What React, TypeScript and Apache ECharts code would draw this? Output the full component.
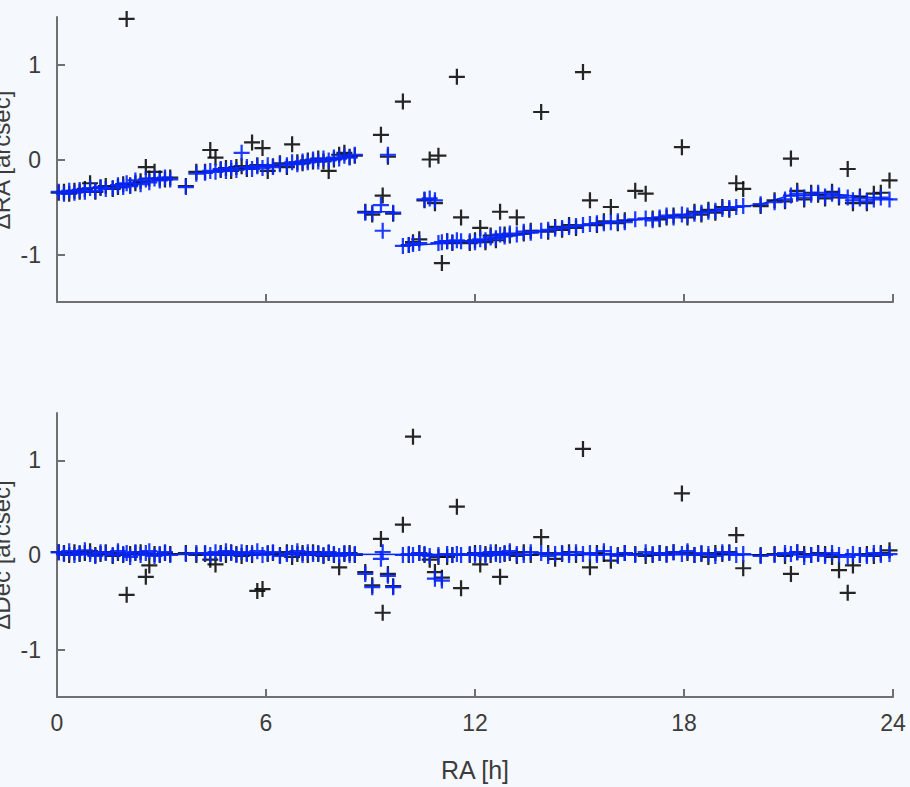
import React, { useEffect, useRef } from "react";
import * as echarts from "echarts";

// Observation right ascensions [h]
const ra = [
  0.05, 0.2, 0.35, 0.5, 0.65, 0.8, 0.95, 1.1, 1.25, 1.4, 1.6, 1.75, 1.9, 2.0, 2.1, 2.25, 2.4, 2.55, 2.65, 2.8, 2.95, 3.1, 3.25,
  3.7, 4.0,
  4.25, 4.4, 4.55, 4.7, 4.85, 5.0, 5.15, 5.3, 5.45, 5.6, 5.75, 5.9, 6.05, 6.2, 6.4, 6.6, 6.75, 6.9, 7.05, 7.2, 7.35, 7.5, 7.65, 7.8, 7.95, 8.1, 8.25, 8.4, 8.55,
  8.85, 9.05, 9.3, 9.35, 9.5, 9.65,
  9.93, 10.1, 10.22, 10.4, 10.55, 10.7, 10.85, 10.95, 11.05, 11.2, 11.35, 11.48, 11.6,
  11.85, 12.0, 12.15, 12.3, 12.45, 12.6, 12.72, 12.85, 13.0, 13.2, 13.4, 13.6, 13.9, 14.1, 14.3, 14.5, 14.7, 14.9, 15.1, 15.3,
  15.5, 15.7, 15.9, 16.1, 16.3, 16.6, 16.9, 17.1, 17.3, 17.5, 17.7, 17.94, 18.1, 18.3, 18.5, 18.7, 18.9, 19.1, 19.3, 19.5,
  19.7, 20.2, 20.6, 20.9, 21.07, 21.25, 21.45, 21.65, 21.85, 22.05, 22.25, 22.45, 22.7, 22.85, 23.05, 23.25, 23.45, 23.65, 23.9,
];

// Upper panel: observed (black) and model (blue) offsets [arcsec]
const topObserved = [
  -0.35, -0.34, -0.36, -0.33, -0.34, -0.31, -0.25, -0.34, -0.3, -0.28, -0.31, -0.29, -0.26, 1.48, -0.27, -0.25, -0.23, -0.08, -0.2, -0.13, -0.2, -0.21, -0.19,
  -0.28, -0.13,
  -0.13, 0.1, 0.02, -0.11, -0.09, -0.12, -0.08, -0.07, -0.1, 0.18, -0.06, 0.12, -0.12, -0.07, -0.04, -0.08, 0.16, -0.03, -0.04, -0.01, -0.02, 0.01, -0.02, -0.12, 0.0, 0.05, 0.07, 0.03, 0.04,
  -0.55, -0.58, 0.26, -0.38, 0.03, -0.57,
  0.61, -0.9, -0.87, -0.84, -0.43, 0.0, -0.46, 0.04, -1.09, -0.86, -0.88, 0.87, -0.61,
  -0.88, -0.85, -0.72, -0.87, -0.8, -0.85, -0.55, -0.79, -0.8, -0.61, -0.78, -0.75, 0.5, -0.76, -0.71, -0.74, -0.69, -0.72, 0.92, -0.43,
  -0.69, -0.65, -0.5, -0.67, -0.64, -0.33, -0.36, -0.62, -0.63, -0.61, -0.59, 0.13, -0.61, -0.55, -0.58, -0.53, -0.56, -0.5, -0.53, -0.25,
  -0.31, -0.49, -0.43, -0.44, 0.01, -0.33, -0.42, -0.35, -0.37, -0.41, -0.34, -0.4, -0.1, -0.46, -0.39, -0.46, -0.36, -0.35, -0.22,
];
const topModel = [
  -0.34, -0.36, -0.33, -0.35, -0.32, -0.34, -0.3, -0.33, -0.29, -0.31, -0.3, -0.27, -0.29, -0.25, -0.28, -0.22, -0.26, -0.21, -0.24, -0.2, -0.22, -0.19, -0.21,
  -0.29, -0.15,
  -0.14, -0.12, -0.13, -0.1, -0.12, -0.09, -0.11, 0.07, -0.08, -0.1, -0.07, -0.09, -0.06, -0.08, -0.05, -0.06, -0.03, -0.05, -0.02, -0.03, 0.0, -0.02, 0.01, -0.01, 0.02, 0.01, 0.04, 0.02, 0.05,
  -0.56, -0.56, -0.48, -0.75, 0.05, -0.56,
  -0.91, -0.9, -0.89, -0.88, -0.42, -0.41, -0.43, -0.88, -0.87, -0.86, -0.87, -0.85, -0.86,
  -0.86, -0.87, -0.84, -0.85, -0.82, -0.83, -0.79, -0.81, -0.78, -0.79, -0.76, -0.77, -0.75, -0.74, -0.73, -0.72, -0.71, -0.7, -0.69, -0.68,
  -0.67, -0.67, -0.66, -0.65, -0.66, -0.63, -0.62, -0.64, -0.61, -0.59, -0.61, -0.58, -0.59, -0.57, -0.56, -0.55, -0.54, -0.52, -0.51, -0.5,
  -0.49, -0.47, -0.45, -0.42, -0.38, -0.36, -0.4, -0.37, -0.35, -0.39, -0.36, -0.38, -0.4, -0.43, -0.41, -0.44, -0.42, -0.4, -0.42,
];

// Lower panel: observed (black) and model (blue) offsets [arcsec]
const bottomObserved = [
  0.03, 0.02, 0.0, 0.03, 0.01, 0.02, 0.04, 0.0, 0.01, 0.03, -0.01, 0.02, 0.0, -0.42, 0.01, 0.02, 0.03, -0.23, -0.11, 0.01, 0.0, 0.02, 0.01,
  0.02, 0.0,
  0.01, -0.05, -0.1, 0.02, 0.0, 0.03, 0.01, -0.01, 0.02, 0.0, -0.38, -0.36, 0.01, 0.02, 0.0, 0.03, -0.02, 0.01, 0.02, 0.0, 0.03, 0.01, -0.01, 0.02, 0.0, -0.13, 0.01, 0.02, 0.0,
  -0.18, -0.32, 0.17, -0.61, -0.2, -0.33,
  0.32, 0.0, 1.25, 0.02, 0.0, -0.05, -0.18, -0.02, -0.24, -0.02, 0.0, 0.51, -0.35,
  0.0, 0.02, -0.1, 0.01, 0.0, 0.03, -0.23, 0.01, 0.02, -0.01, 0.03, 0.0, 0.19, 0.02, -0.04, 0.01, 0.03, 0.0, 1.12, -0.13,
  0.02, 0.01, -0.06, 0.0, 0.02, 0.01, -0.01, 0.0, 0.02, 0.01, 0.03, 0.65, 0.02, 0.0, 0.01, -0.02, 0.02, 0.01, 0.03, 0.21,
  -0.14, 0.0, 0.01, -0.01, -0.2, 0.03, 0.01, 0.0, 0.02, 0.01, -0.02, -0.16, -0.4, -0.11, 0.0, 0.01, -0.01, 0.02, 0.05,
];
const bottomModel = [
  0.03, 0.01, 0.04, 0.0, 0.02, 0.05, 0.01, -0.01, 0.03, 0.02, 0.0, 0.04, 0.01, 0.02, -0.02, 0.03, 0.0, 0.02, 0.04, -0.01, 0.01, 0.03, 0.0,
  0.01, 0.02,
  0.02, 0.0, 0.03, 0.01, 0.04, 0.02, 0.0, 0.03, 0.01, 0.02, 0.04, 0.0, 0.02, 0.03, -0.01, 0.01, 0.02, 0.04, 0.0, 0.03, 0.01, 0.02, 0.0, 0.03, 0.01, -0.01, 0.02, 0.0, 0.01,
  -0.2, -0.34, -0.04, 0.03, -0.22, -0.34,
  0.0, 0.01, 0.0, 0.02, 0.01, -0.01, -0.25, 0.0, -0.27, 0.01, 0.0, 0.01, 0.0,
  0.01, 0.0, 0.02, -0.01, 0.03, 0.01, 0.0, 0.02, 0.04, 0.01, 0.0, 0.03, 0.02, -0.01, 0.01, 0.02, 0.0, 0.03, 0.01, 0.02,
  0.0, 0.04, 0.01, -0.01, 0.02, 0.0, 0.03, 0.01, 0.02, 0.0, 0.03, 0.01, 0.04, 0.0, 0.02, 0.01, -0.01, 0.03, 0.02, 0.0,
  0.01, -0.01, 0.0, 0.02, 0.01, 0.03, -0.02, 0.0, 0.01, -0.01, 0.02, 0.0, -0.02, 0.01, 0.0, -0.01, 0.02, 0.0, 0.01,
];

// Model curves (segments) drawn as thin lines
const topModelCurve = [
  [[0, -0.35], [3.3, -0.2]],
  [[4.2, -0.14], [8.6, 0.04]],
  [[8.8, -0.55], [9.7, -0.55]],
  [[10.5, -0.42], [10.9, -0.42]],
  [[9.9, -0.91], [12, -0.86], [15, -0.7], [18, -0.58], [20.2, -0.47], [21, -0.38], [22.5, -0.37], [24, -0.42]],
];
const bottomModelCurve = [[[0, 0.01], [24, 0.0]]];

const xTicks = [0, 6, 12, 18, 24];
const yTicks = [-1, 0, 1];
const xName = "RA [h]";
const topYName = "ΔRA [arcsec]";
const bottomYName = "ΔDec [arcsec]";

const PLUS = "path://M-1,-0.14H1V0.14H-1Z M-0.14,-1H0.14V1H-0.14Z";
const BLACK = "#0d0d0d";
const BLUE = "#0626ff";
const AXIS = "#707070";
const TXT = "#3c3c3c";
const FONT = "'Liberation Sans', Arial, sans-serif";
const BG = "#f5f8fc";

export default function App() {
  const ref = useRef<HTMLDivElement>(null);
  useEffect(() => {
    if (!ref.current) return;
    const chart = echarts.init(ref.current, undefined, { renderer: "svg" });

    const pts = (vals: number[]) => ra.map((x, i) => [x, vals[i]]);

    const mkX = (gi: number, showLabels: boolean) => ({
      type: "value",
      gridIndex: gi,
      min: 0,
      max: 24,
      interval: 6,
      axisLine: { show: true, onZero: false, lineStyle: { color: AXIS, width: 2 } },
      axisTick: { show: true, inside: true, length: 8, lineStyle: { color: AXIS, width: 2 } },
      axisLabel: {
        show: showLabels,
        customValues: xTicks,
        color: TXT,
        fontSize: 23,
        fontFamily: FONT,
        margin: 14,
      },
      splitLine: { show: false },
    });
    const mkY = (gi: number) => ({
      type: "value",
      gridIndex: gi,
      min: -1.5,
      max: 1.5,
      axisLine: { show: true, onZero: false, lineStyle: { color: AXIS, width: 2 } },
      axisTick: { show: true, inside: true, length: 8, customValues: yTicks, lineStyle: { color: AXIS, width: 2 } },
      axisLabel: {
        customValues: yTicks,
        color: TXT,
        fontSize: 23,
        fontFamily: FONT,
        margin: 16,
      },
      splitLine: { show: false },
    });

    const curveSeries = (segs: number[][][], gi: number) =>
      segs.map((seg) => ({
        type: "line",
        xAxisIndex: gi,
        yAxisIndex: gi,
        data: seg,
        symbol: "none",
        lineStyle: { color: BLUE, width: 1.5 },
        z: 1,
        silent: true,
      }));

    const scatter = (vals: number[], gi: number, color: string, z: number) => ({
      type: "scatter",
      xAxisIndex: gi,
      yAxisIndex: gi,
      data: pts(vals),
      symbol: PLUS,
      symbolSize: 16,
      itemStyle: { color, opacity: 0.9 },
      z,
      silent: true,
    });

    chart.setOption({
      animation: false,
      backgroundColor: BG,
      grid: [
        { left: 57, right: 17, top: 17, height: 285 },
        { left: 57, right: 17, top: 413, height: 284 },
      ],
      xAxis: [mkX(0, false), mkX(1, true)],
      yAxis: [mkY(0), mkY(1)],
      graphic: [
        {
          type: "text",
          x: 475,
          y: 770,
          style: { text: xName, font: `25px ${FONT}`, fill: TXT, textAlign: "center", textVerticalAlign: "middle" },
        },
        {
          type: "text",
          x: 13,
          y: 160,
          rotation: Math.PI / 2,
          style: { text: topYName, font: `24px ${FONT}`, fill: TXT, textAlign: "center", textVerticalAlign: "bottom" },
        },
        {
          type: "text",
          x: 13,
          y: 555,
          rotation: Math.PI / 2,
          style: { text: bottomYName, font: `24px ${FONT}`, fill: TXT, textAlign: "center", textVerticalAlign: "bottom" },
        },
      ],
      series: [
        ...curveSeries(topModelCurve, 0),
        ...curveSeries(bottomModelCurve, 1),
        scatter(topObserved, 0, BLACK, 2),
        scatter(topModel, 0, BLUE, 3),
        scatter(bottomObserved, 1, BLACK, 2),
        scatter(bottomModel, 1, BLUE, 3),
      ],
    });
    return () => chart.dispose();
  }, []);

  return (
    <div
      ref={ref}
      style={{ position: "fixed", left: 0, top: 0, width: 910, height: 787, background: BG }}
    />
  );
}
